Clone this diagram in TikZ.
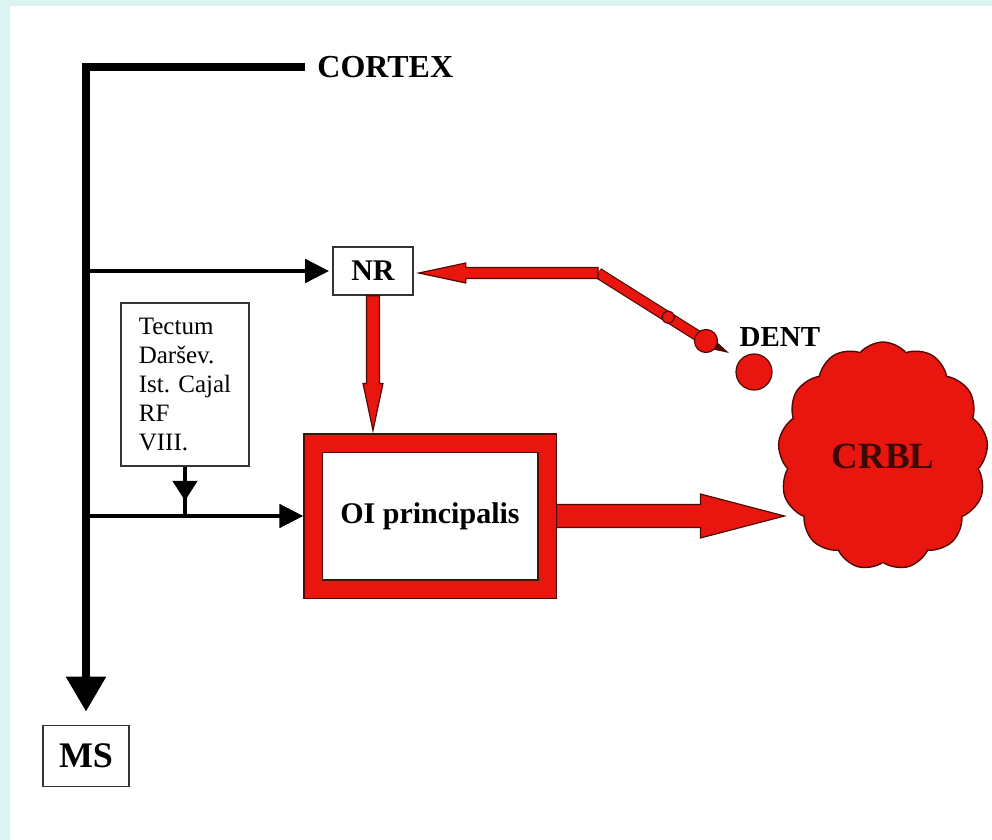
\documentclass[tikz,border=0pt]{standalone}
\usepackage{fontspec}
\setmainfont{Liberation Serif}
\usetikzlibrary{arrows.meta,calc,shapes.symbols}
\definecolor{nred}{RGB}{232,22,14}
\definecolor{ndark}{RGB}{80,10,5}
\definecolor{ncyan}{RGB}{220,244,241}

\tikzset{box/.style={draw=black!80, line width=0.8pt, fill=white, inner sep=0pt},
  lbl/.style={font=\bfseries\fontsize{15}{18}\selectfont},
  arr/.style={line width=2.4pt, -{Triangle[length=12pt,width=11.5pt]}},
  rfill/.style={fill=nred, draw=ndark, line width=0.6pt, line join=miter}}

% block arrow: start, tip, half shaft, half head, head length
\newcommand\blockarrow[5]{%
  \coordinate (bh) at ($(#2)!#5!(#1)$);
  \draw[rfill] ($(#1)!#3!90:(#2)$) -- ($(bh)!#3!90:(#2)$) -- ($(bh)!#4!90:(#2)$) -- (#2)
    -- ($(bh)!#4!-90:(#2)$) -- ($(bh)!#3!-90:(#2)$) -- ($(#1)!#3!-90:(#2)$) -- cycle;}

\begin{document}
\begin{tikzpicture}[x=0.5pt,y=-0.5pt]
\useasboundingbox (0,0) rectangle (992,840);
\fill[ncyan] (0,0) rectangle (992,840);
\fill[white] (10,6) rectangle (992,840);

% boxes and labels
\node[lbl, anchor=west, inner sep=6pt, font=\bfseries\fontsize{16}{19}\selectfont] (cortex) at (305,67) {CORTEX};
\node[box, lbl, minimum width=40pt, minimum height=24pt] (nr) at (373,271) {NR};
\node[box, align=left, minimum width=64pt, minimum height=81.5pt,
      font=\fontsize{12.5}{14.4}\selectfont] (tect) at (185,384.5)
      {Tectum\\Daršev.\\Ist. Cajal\\RF\\VIII.};
\node[lbl, minimum width=117pt, minimum height=73pt, outer sep=4.8pt, fill=white,
      draw=ndark, double=nred, double distance=8.5pt, line width=0.6pt] (oi) at (430,516) {OI principalis};
\node[box, lbl, minimum width=43pt, minimum height=30.5pt, font=\bfseries\fontsize{18}{21}\selectfont] (ms) at (86,756) {MS};
\node[cloud, cloud puffs=13, cloud puff arc=100, cloud ignores aspect, minimum width=105pt, minimum height=114pt,
      fill=nred, draw=ndark, line width=0.7pt, text={rgb,255:red,60;green,8;blue,6},
      font=\bfseries\fontsize{18.5}{21}\selectfont] (crbl) at (883,456) {CRBL};
\node[lbl, font=\bfseries\fontsize{14.5}{17}\selectfont] (dent) at (780,337) {DENT};
\node[circle, rfill, minimum size=18pt, inner sep=0pt] (dn) at (754,372) {};

% black pathways
\draw[line width=4.2pt, line join=miter, -{Triangle[length=17.5pt,width=19pt]}, shorten >=6.5pt]
  (cortex.west) -- (ms |- cortex.west) -- (ms.north);
\draw[arr, shorten >=1.5pt] (ms |- nr) -- (nr.west);
\draw[arr] (ms |- oi) -- (oi.west);
\draw[line width=2.4pt] (tect.south) -- (tect.south |- oi);
\draw[line width=2.4pt, -{Triangle[length=10pt,width=12pt]}] (tect.south) -- ++(0,34);

% red pathways
\coordinate (t1) at ($(nr.south |- oi.north)+(0,-3)$);
\blockarrow{nr.south}{t1}{3.25pt}{5pt}{23.5pt}
\coordinate (t3) at ($(crbl.west |- oi.east)+(5,0)$);
\blockarrow{oi.east}{t3}{5.75pt}{11pt}{42pt}

% axon from the dentate, ending at NR
\coordinate (bend) at (598,273);
\coordinate (ax) at (706,341);
\coordinate (spk) at (729,353);
\draw[draw=ndark, double=nred, double distance=4.4pt, line width=0.6pt] (bend) -- (ax);
\fill[ndark] ($(ax)!3.5pt!90:(spk)$) -- (spk) -- ($(ax)!3.5pt!-90:(spk)$) -- cycle;
\node[circle, rfill, minimum size=11.5pt, inner sep=0pt] (ball) at (ax) {};
\node[circle, rfill, minimum size=6pt, inner sep=0pt] (knot) at ($(bend)!0.65!(ax)$) {};
\coordinate (t2) at ($(nr.east)+(5,2)$);
\blockarrow{bend}{t2}{2.75pt}{5pt}{23.5pt}
\end{tikzpicture}
\end{document}
